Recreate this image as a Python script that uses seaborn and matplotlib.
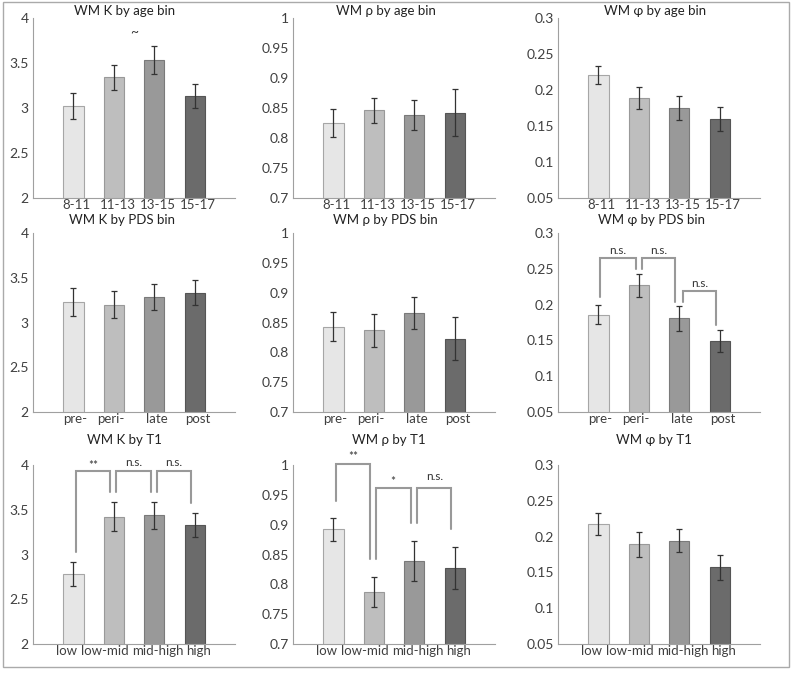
import pandas as pd
import seaborn as sns
import matplotlib.pyplot as plt
from matplotlib.patches import Rectangle

# bin labels
age_bins = ["8-11", "11-13", "13-15", "15-17"]
pds_bins = ["pre-", "peri-", "late", "post"]
t1_bins = ["low", "low-mid", "mid-high", "high"]

# bar means and error half-widths
k_age = [3.02, 3.34, 3.53, 3.13]
k_age_err = [0.145, 0.135, 0.155, 0.135]
rho_age = [0.825, 0.846, 0.838, 0.842]
rho_age_err = [0.024, 0.021, 0.025, 0.039]
phi_age = [0.221, 0.189, 0.175, 0.160]
phi_age_err = [0.013, 0.015, 0.016, 0.017]

k_pds = [3.23, 3.20, 3.28, 3.33]
k_pds_err = [0.16, 0.155, 0.145, 0.14]
rho_pds = [0.843, 0.837, 0.866, 0.823]
rho_pds_err = [0.024, 0.0275, 0.0265, 0.036]
phi_pds = [0.186, 0.227, 0.181, 0.149]
phi_pds_err = [0.013, 0.016, 0.0175, 0.0155]

k_t1 = [2.78, 3.42, 3.44, 3.33]
k_t1_err = [0.137, 0.163, 0.152, 0.132]
rho_t1 = [0.892, 0.787, 0.839, 0.827]
rho_t1_err = [0.019, 0.0257, 0.0335, 0.035]
phi_t1 = [0.217, 0.189, 0.194, 0.157]
phi_t1_err = [0.0153, 0.0172, 0.016, 0.017]

# y axis ticks per measure
k_ticks = [2, 2.5, 3, 3.5, 4]
k_labels = ["2", "2.5", "3", "3.5", "4"]
rho_ticks = [0.7, 0.75, 0.8, 0.85, 0.9, 0.95, 1.0]
rho_labels = ["0.7", "0.75", "0.8", "0.85", "0.9", "0.95", "1"]
phi_ticks = [0.05, 0.1, 0.15, 0.2, 0.25, 0.3]
phi_labels = ["0.05", "0.1", "0.15", "0.2", "0.25", "0.3"]

# significance brackets: x1, x2, left foot, top, right foot, label, label x, label y
phi_pds_sig = [
    (0.05, 0.92, 0.2103, 0.2647, 0.2498, "n.s.", 0.48, 0.2754),
    (1.08, 1.90, 0.2498, 0.2647, 0.2043, "n.s.", 1.49, 0.2754),
    (2.10, 2.92, 0.2043, 0.2196, 0.1717, "n.s.", 2.51, 0.2290),
]
k_t1_sig = [
    (0.066, 0.918, 3.033, 3.933, 3.695, "**", 0.49, 4.00),
    (1.066, 1.914, 3.695, 3.933, 3.695, "n.s.", 1.48, 4.03),
    (2.070, 2.920, 3.695, 3.933, 3.572, "n.s.", 2.47, 4.03),
]
rho_t1_sig = [
    (0.066, 0.918, 0.9398, 1.0011, 0.8428, "**", 0.48, 1.014),
    (1.066, 1.914, 0.8428, 0.9610, 0.9025, "*", 1.48, 0.972),
    (2.070, 2.920, 0.9025, 0.9610, 0.8924, "n.s.", 2.50, 0.980),
]

bar_colors = ["#e6e6e6", "#bebebe", "#999999", "#6b6b6b"]
edge_colors = ["#a6a6a6", "#999999", "#7a7a7a", "#555555"]

# where the category labels sit (nudged as in the original figure)
age_label_x = [0.08, 1.10, 2.10, 3.09]
pds_label_x = [0.04, 0.93, 2.06, 3.09]
t1_label_x = [-0.16, 0.78, 2.08, 3.11]

panels = [
    ("WM K by age bin", age_bins, age_label_x, k_age, k_age_err, k_ticks, k_labels, []),
    ("WM ρ by age bin", age_bins, age_label_x, rho_age, rho_age_err, rho_ticks, rho_labels, []),
    ("WM φ by age bin", age_bins, age_label_x, phi_age, phi_age_err, phi_ticks, phi_labels, []),
    ("WM K by PDS bin", pds_bins, pds_label_x, k_pds, k_pds_err, k_ticks, k_labels, []),
    ("WM ρ by PDS bin", pds_bins, pds_label_x, rho_pds, rho_pds_err, rho_ticks, rho_labels, []),
    ("WM φ by PDS bin", pds_bins, pds_label_x, phi_pds, phi_pds_err, phi_ticks, phi_labels, phi_pds_sig),
    ("WM K by T1", t1_bins, t1_label_x, k_t1, k_t1_err, k_ticks, k_labels, k_t1_sig),
    ("WM ρ by T1", t1_bins, t1_label_x, rho_t1, rho_t1_err, rho_ticks, rho_labels, rho_t1_sig),
    ("WM φ by T1", t1_bins, t1_label_x, phi_t1, phi_t1_err, phi_ticks, phi_labels, []),
]

sns.set_style("white")
plt.rcParams['font.family'] = ['Lato', 'DejaVu Sans']

W, H = 793, 676
fig = plt.figure(figsize=(W / 100, H / 100), dpi=100)

col_left = [33, 293, 558]
row_span = [(18, 198), (233, 412), (465, 644)]
ax_w = 202
title_pos = [
    [(125, 11), (386, 11), (655, 11)],
    [(122, 220), (385, 220), (651, 220)],
    [(124, 440), (389, 440), (654, 440)],
]

for i, (title, cats, lab_x, vals, errs, ticks, tlabels, sig) in enumerate(panels):
    r, c = divmod(i, 3)
    top, bot = row_span[r]
    ax = fig.add_axes([col_left[c] / W, 1 - bot / H, ax_w / W, (bot - top) / H])

    df = pd.DataFrame({"bin": cats, "value": vals})
    sns.barplot(data=df, x="bin", y="value", hue="bin", palette=bar_colors,
                width=0.5, legend=False, ax=ax, linewidth=0.8)
    for p, ec in zip(ax.patches, edge_colors):
        p.set_edgecolor(ec)
    ax.errorbar(range(len(cats)), vals, yerr=errs, fmt="none", ecolor="#333333",
                elinewidth=0.9, capsize=2.2, capthick=0.9, zorder=4)

    for x1, x2, yl, yt, yr, lab, lx, ly in sig:
        ax.plot([x1, x1, x2, x2], [yl, yt, yt, yr], color="#999999", lw=1.5,
                clip_on=False, solid_joinstyle="miter", zorder=5)
        ax.text(lx, ly, lab, ha="center", va="center", fontsize=8.5,
                color="#333333", clip_on=False)
    if i == 0:
        ax.text(1.5, 3.85, "~", ha="center", va="center", fontsize=10, color="#333333")

    ax.set_xlim(-1, 4)
    ax.set_xticks(lab_x)
    ax.set_xticklabels(cats)
    ax.set_ylim(ticks[0], ticks[-1])
    ax.set_yticks(ticks)
    ax.set_yticklabels(tlabels)
    ax.set_xlabel("")
    ax.set_ylabel("")
    for s in ["top", "right"]:
        ax.spines[s].set_visible(False)
    for s in ["left", "bottom"]:
        ax.spines[s].set_color("#a0a0a0")
        ax.spines[s].set_linewidth(0.8)
    ax.tick_params(axis="y", direction="in", length=3, color="#a0a0a0",
                   labelsize=10, labelcolor="#404040", pad=3)
    ax.tick_params(axis="x", length=0, labelsize=9.5, labelcolor="#404040", pad=1)

    tx, ty = title_pos[r][c]
    fig.text(tx / W, 1 - ty / H, title, ha="center", va="center",
             fontsize=9.5, color="#222222")

fig.add_artist(Rectangle((3 / W, 1 - 667 / H), 786 / W, 665 / H,
                         transform=fig.transFigure, fill=False,
                         edgecolor="#aaaaaa", linewidth=1))

plt.savefig("out.png", dpi=100)
